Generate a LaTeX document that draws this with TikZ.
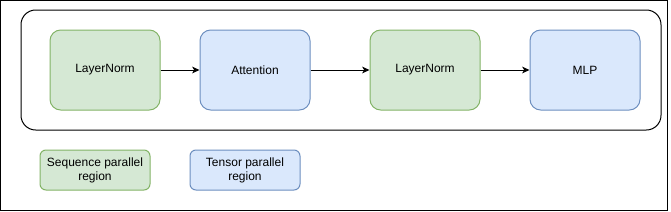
\documentclass[tikz,border=0pt]{standalone}
\usepackage{fontspec}
\setmainfont{Liberation Sans}
\usetikzlibrary{arrows.meta}
\definecolor{verdeRelleno}{HTML}{D5E8D4}
\definecolor{verdeBorde}{HTML}{82B366}
\definecolor{azulRelleno}{HTML}{DAE8FC}
\definecolor{azulBorde}{HTML}{6C8EBF}
\begin{document}
\begin{tikzpicture}[
    x=0.75pt, y=-0.75pt,
    font=\fontsize{9}{10.5}\selectfont,
    bloque/.style={line width=0.75pt, rounded corners=8pt, inner sep=0pt,
      minimum width=82.5pt, minimum height=60pt},
    leyenda/.style={line width=0.75pt, rounded corners=4.5pt, inner sep=0pt,
      minimum width=82.5pt, minimum height=30pt, align=center},
    secuencia/.style={fill=verdeRelleno, draw=verdeBorde},
    tensor/.style={fill=azulRelleno, draw=azulBorde},
    flecha/.style={line width=0.75pt, -{Stealth[length=5.5pt, width=5pt, inset=1.5pt]}},
    marco/.style={line width=0.75pt, rounded corners=11pt}
  ]
  % 1 px del original = 0,75 pt; el eje y crece hacia abajo.
  \useasboundingbox (0,0) rectangle (671,211);

  % --- borde exterior y marco de la capa ---
  \draw[line width=0.75pt] (0.5,0.5) rectangle (667,210.5);
  \draw[marco] (21,10) rectangle (661,130);

  % --- bloques de la capa ---
  \node[bloque, secuencia] (norma1)   at (105,70) {LayerNorm};
  \node[bloque, tensor]    (atencion) at (255,70) {Attention};
  \node[bloque, secuencia] (norma2)   at (425,70) {LayerNorm};
  \node[bloque, tensor]    (mlp)      at (585,70) {MLP};

  \foreach \desde/\hasta in {norma1/atencion, atencion/norma2, norma2/mlp}{
    \draw[flecha] (\desde) -- (\hasta);
  }

  % --- leyenda ---
  \node[leyenda, secuencia] (leySec) at (95,170)  {Sequence parallel\\region};
  \node[leyenda, tensor]    (leyTen) at (245,170) {Tensor parallel\\region};
\end{tikzpicture}
\end{document}
